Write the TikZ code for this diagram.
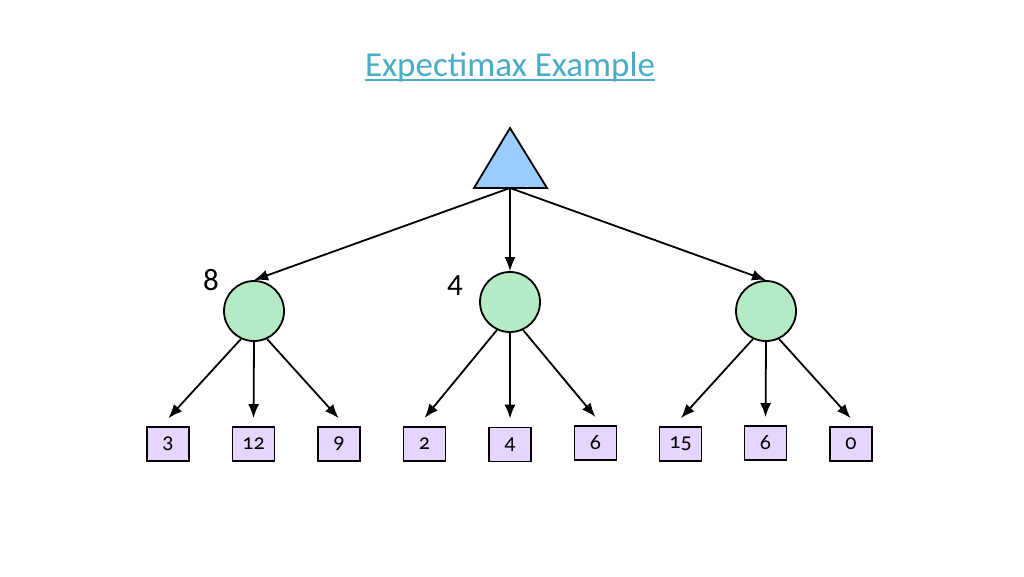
\documentclass[tikz,border=0pt]{standalone}
\usepackage{fontspec}
\setmainfont{Carlito}
\newfontfamily\oldnums[Numbers=OldStyle]{Carlito}
\usetikzlibrary{arrows.meta}
\definecolor{titleblue}{RGB}{75,172,198}
\definecolor{maxblue}{RGB}{153,204,255}
\definecolor{chancegreen}{RGB}{180,235,196}
\definecolor{leafpurple}{RGB}{230,214,255}
\begin{document}
\begin{tikzpicture}[x=1pt, y=-1pt, >={Latex[length=14pt,width=11pt]},
    chance/.style={circle, draw, line width=1.8pt, fill=chancegreen, minimum size=60pt, inner sep=0pt},
    leaf/.style={rectangle, draw, line width=1.8pt, fill=leafpurple, minimum width=42pt, minimum height=34pt, inner sep=0pt, font=\oldnums\fontsize{22}{24}\selectfont},
    value/.style={font=\fontsize{31}{34}\selectfont},
    edge/.style={->, line width=1.8pt},
    down/.style={edge, shorten >=8pt}]
      \useasboundingbox (0,0) rectangle (1024,576);

      \node[anchor=base, inner sep=0pt, text=titleblue, font=\fontsize{35}{40}\selectfont] (title) at (510,76) {Expectimax Example};
      \draw[titleblue, line width=1.8pt] ([yshift=-4pt]title.base west) -- ([yshift=-4pt]title.base east);

      % max node
      \draw[line width=1.8pt, fill=maxblue] (474,188) -- (510,128) -- (547,188) -- cycle;
      \coordinate (root) at (510,188);

      % chance nodes
      \node[chance] (C1) at (254,311) {};
      \node[chance] (C2) at (510,302) {};
      \node[chance] (C3) at (766,311) {};

      \node[value] (V1) at (211,280) {8};
      \node[value] (V2) at (455,286) {4};

      % leaves
      \node[leaf] (L1) at (168,444) {3};
      \node[leaf] (L2) at (253.5,444) {12};
      \node[leaf] (L3) at (339,444) {9};
      \node[leaf] (L4) at (424.5,444) {2};
      \node[leaf] (L5) at (510,444.5) {4};
      \node[leaf] (L6) at (595.5,443) {6};
      \node[leaf] (L7) at (680.5,444) {15};
      \node[leaf] (L8) at (765.5,443) {6};
      \node[leaf] (L9) at (851,444) {0};

      \draw[edge] (root) -- (C1.north);
      \draw[edge] (root) -- (C2.north);
      \draw[edge] (root) -- (C3.north);

      \draw[down] (C1.245) -- ([xshift=-5pt,yshift=2pt]L1.north);
      \draw[down] (C1.south) -- (L2.north);
      \draw[down] (C1.295) -- ([xshift=5pt,yshift=2pt]L3.north);
      \draw[down] (C2.245) -- ([xshift=-5pt,yshift=2pt]L4.north);
      \draw[down] (C2.south) -- (L5.north);
      \draw[down] (C2.295) -- ([xshift=5pt,yshift=2pt]L6.north);
      \draw[down] (C3.245) -- ([xshift=-5pt,yshift=2pt]L7.north);
      \draw[down] (C3.south) -- (L8.north);
      \draw[down] (C3.295) -- ([xshift=5pt,yshift=2pt]L9.north);
    \end{tikzpicture}
\end{document}
